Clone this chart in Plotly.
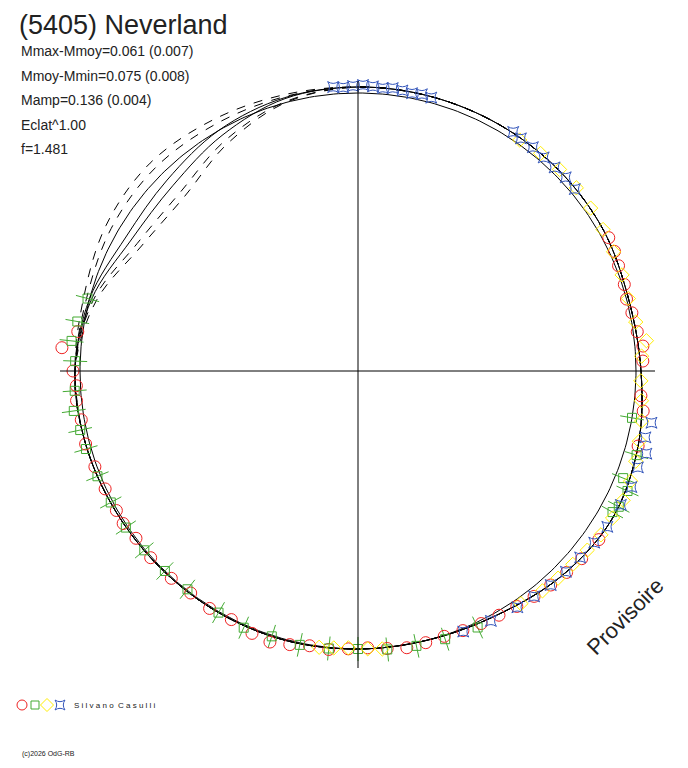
import numpy as np
import plotly.graph_objects as go

# observed points: (angle deg CCW from +x, radius px units)
red_a = [172,175.5,180,183,186,190,195,200,205,210,213,217,222,228,233,238,243,248,252,256,260,264,268,272,276,280,284,288,292,296,300,304,308,312,316,320,325,2,5,8,12,15,18,22,25,28,355,352,345]
red_r = [283,297,285,282,283,281,282,280,279,279,280,278,279,279,278,280,279,283,285,282,279,280,278,277,279,281,280,279,280,281,282,284,286,288,290,292,294,285,286,282,280,278,280,281,283,284,284,288,290]
grn_a = [165,170,174,178,184,188,192,196,202,208,214,220,226,232,240,246,252,258,264,270,276,282,288,295,350.3,343.2,338,336,332.5,331]
grn_r = [280,285,288,283,284,287,284,283,281,280,280,279,278,277,279,281,279,280,279,278,280,281,282,283,278,291,286,295,294,291]
yel_a = [55,50,45,40,35,30,25,20,15,10,6,3,358,354,350,346,342,338,334,330,326,322,318,314,310,305,275,272,268,265,262]
yel_r = [282,284,285,285,284,283,282,281,280,282,290,284,283,285,288,290,292,294,295,294,293,291,289,288,287,284,279,278,277,278,279]
blu_a = [95,93,91,89,87,85,83,81,79,77,75,57,55,52,49,46,43,40,350,347,344,341,337,333,328,324,320,316,312,308,304,298,292]
blu_r = [285,284,285,286,285,284,285,284,283,284,283,285,284,284,283,283,284,283,298,295,300,296,297,295,294,292,290,289,288,286,285,283,281]

# model curves on a 15-degree grid
fit_a = [0,15,30,45,60,75,90,105,120,135,150,165,180,195,210,225,240,255,270,285,300,315,330,345]
solid1 = [283,280,283,284,284,284,284,283,278,270,268,278,283,282,280,279,279,279,278,278,281,289,294,290]
solid2 = [283,280,283,284,284,284,284,282,272,262,262,276,283,282,280,279,279,279,278,278,281,289,294,290]
dash1 = [283,280,283,284,284,284,284,286,290,294,291,284,283,282,280,279,279,279,278,278,281,289,294,290]
dash2 = [283,280,283,284,284,284,284,284,285,287,285,281,283,282,280,279,279,279,278,278,281,289,294,290]
dash3 = [283,280,283,284,284,284,284,279,266,252,255,274,283,282,280,279,279,279,278,278,281,289,294,290]
dash4 = [283,280,283,284,284,284,284,278,262,246,250,271,283,282,280,279,279,279,278,278,281,289,294,290]
ref_r = 278

W, H = 672, 752   # page has 8px body margin
CX, CY = 350, 363  # centre in figure px

def xy(a, r):
    a = np.radians(np.array(a, float)); r = np.array(r, float)
    return r*np.cos(a), r*np.sin(a)

fig = go.Figure()
t = np.linspace(0, 2*np.pi, 361)
fig.add_trace(go.Scatter(x=ref_r*np.cos(t), y=ref_r*np.sin(t), mode='lines', line=dict(color='black', width=1)))
for rr, d in [(solid1,'solid'),(solid2,'solid'),(dash1,'dash'),(dash2,'dash'),(dash3,'dash'),(dash4,'dash')]:
    x, y = xy(fit_a+[360], rr+[rr[0]])
    fig.add_trace(go.Scatter(x=x, y=y, mode='lines', line=dict(color='black', width=1, dash=d, shape='spline')))
ex, ey = [], []
for a, r in zip(grn_a, grn_r):
    x0, y0 = xy([a], [r-12]); x1, y1 = xy([a], [r+12])
    ex += [x0[0], x1[0], None]; ey += [y0[0], y1[0], None]
fig.add_trace(go.Scatter(x=ex, y=ey, mode='lines', line=dict(color='#44aa33', width=1)))
for a, r, sym, col, sz in [(red_a, red_r, 'circle-open', '#ee2222', 12),
                           (grn_a, grn_r, 'square-open', '#44aa33', 9),
                           (yel_a, yel_r, 'diamond-open', '#ffee00', 11),
                           (blu_a, blu_r, 'star-square-open', '#3355bb', 10)]:
    x, y = xy(a, r)
    fig.add_trace(go.Scatter(x=x, y=y, mode='markers', marker=dict(symbol=sym, color=col, size=sz, line=dict(width=1))))

shapes = [dict(type='line', x0=-298, x1=297, y0=0, y1=0, line=dict(color='black', width=1)),
          dict(type='line', x0=0, x1=0, y0=290, y1=-297, line=dict(color='black', width=1))]

F = 'Liberation Sans, Arial'
def P(px, py):  # page px -> data coords
    return px - 8 - CX, CY - (py - 8)

annotations = []
x, y = P(17, 8)
annotations.append(dict(x=x, y=y, text='(5405) Neverland', showarrow=False, xanchor='left', yanchor='top',
                        font=dict(size=27, family=F, color='#222')))
ann = []
for i, s in enumerate(['Mmax-Mmoy=0.061 (0.007)', 'Mmoy-Mmin=0.075 (0.008)', 'Mamp=0.136 (0.004)', 'Eclat^1.00', 'f=1.481']):
    ann.append(((19, 51+i*24.5), s, 14))
ann.append(((72, 705), 'S i l v a n o  C a s u l l i', 8))
ann.append(((20, 754), '(c)2026 OdG-RB', 7))
for (px, py), s, fs in ann:
    x, y = P(px, py)
    annotations.append(dict(x=x, y=y, text=s, showarrow=False, xanchor='left', yanchor='middle',
                            font=dict(size=fs, family=F, color='#222')))
x, y = P(625, 616)
annotations.append(dict(x=x, y=y, text='Provisoire', textangle=-45, showarrow=False,
                        xanchor='center', yanchor='middle', font=dict(size=22, family=F, color='#222')))
for (sym, col, sz), lx in zip([('circle-open', '#ee2222', 10), ('square-open', '#44aa33', 8), ('diamond-open', '#ffee00', 10), ('star-square-open', '#3355bb', 9)], [22, 35, 47, 60]):
    x, y = P(lx, 705)
    fig.add_trace(go.Scatter(x=[x], y=[y], mode='markers', marker=dict(symbol=sym, color=col, size=sz, line=dict(width=1))))

fig.update_layout(width=W, height=H, autosize=False, margin=dict(l=0, r=0, t=0, b=0),
                  paper_bgcolor='white', plot_bgcolor='white', showlegend=False,
                  xaxis=dict(range=[-CX, W-CX], visible=False, fixedrange=True),
                  yaxis=dict(range=[CY-H, CY], visible=False, fixedrange=True),
                  shapes=shapes, annotations=annotations)
fig.write_html('out.html')
